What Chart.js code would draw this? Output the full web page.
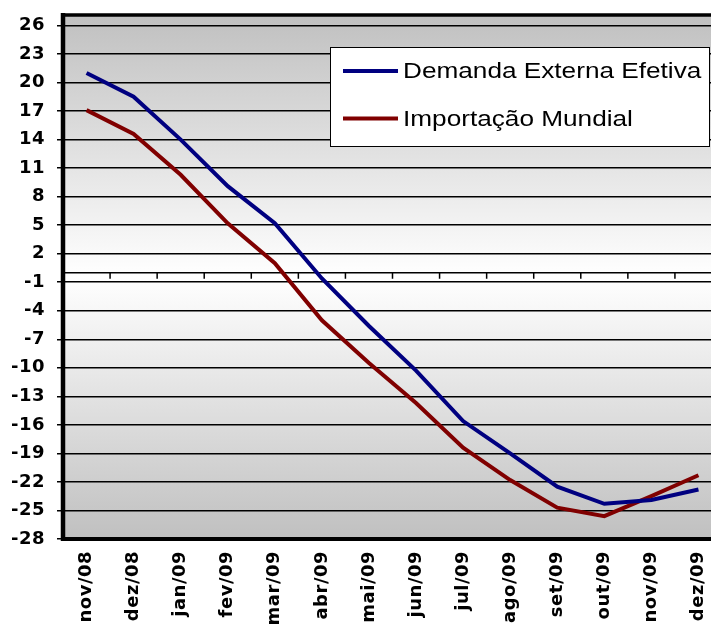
<!DOCTYPE html>
<html>
<head>
<meta charset="utf-8">
<script src="https://cdn.jsdelivr.net/npm/chart.js@4.4.0/dist/chart.umd.min.js"></script>
<style>
html, body { margin: 0; padding: 0; background: #fff; overflow: hidden; }
</style>
</head>
<body>
<canvas id="grafico" width="722" height="626"></canvas>
<script>
var meses = ['nov/08', 'dez/08', 'jan/09', 'fev/09', 'mar/09', 'abr/09', 'mai/09',
    'jun/09', 'jul/09', 'ago/09', 'set/09', 'out/09', 'nov/09', 'dez/09'];
var demandaExterna = [21.0, 18.5, 14.0, 9.1, 5.2, -0.6, -5.6, -10.3, -15.6, -19.0, -22.5, -24.3, -23.9, -22.8];
var importacaoMundial = [17.1, 14.6, 10.3, 5.2, 1.0, -5.0, -9.5, -13.7, -18.4, -21.8, -24.7, -25.6, -23.5, -21.3];
var ticksY = [-28, -25, -22, -19, -16, -13, -10, -7, -4, -1, 2, 5, 8, 11, 14, 17, 20, 23, 26];
var minY = -28;
var maxY = 27.1;

var fonteEixo = 'DejaVu Sans, Verdana, sans-serif';
var fonteLegenda = 'Liberation Sans, Arial, sans-serif';

// fundo degradê + espaçamento das letras
var fundoPlugin = {
    id: 'fundo',
    beforeLayout: function (chart) {
        chart.ctx.letterSpacing = '0.5px';
    },
    beforeDraw: function (chart) {
        var ctx = chart.ctx;
        var a = chart.chartArea;
        var g = ctx.createLinearGradient(0, a.top, 0, a.bottom);
        g.addColorStop(0, '#c0c0c0');
        g.addColorStop(0.5, '#ffffff');
        g.addColorStop(1, '#c0c0c0');
        ctx.save();
        ctx.fillStyle = g;
        ctx.fillRect(a.left, a.top, a.right - a.left, a.bottom - a.top);
        ctx.restore();
        ctx.letterSpacing = '0.5px';
    }
};

// linha do zero com as marcas entre os meses
var zeroPlugin = {
    id: 'zero',
    beforeDatasetsDraw: function (chart) {
        var ctx = chart.ctx;
        var a = chart.chartArea;
        var sx = chart.scales.x;
        var y0 = chart.scales.y.getPixelForValue(0);
        ctx.save();
        ctx.strokeStyle = '#000';
        ctx.lineWidth = 1.5;
        ctx.beginPath();
        ctx.moveTo(a.left, y0);
        ctx.lineTo(a.right, y0);
        for (var i = 0; i < meses.length - 1; i++) {
            var xb = (sx.getPixelForValue(i) + sx.getPixelForValue(i + 1)) / 2;
            ctx.moveTo(xb, y0);
            ctx.lineTo(xb, y0 + 6);
        }
        ctx.stroke();
        ctx.restore();
    }
};

// moldura e legenda
var molduraPlugin = {
    id: 'moldura',
    afterDraw: function (chart) {
        var ctx = chart.ctx;
        var a = chart.chartArea;
        ctx.save();
        ctx.strokeStyle = '#000';
        ctx.lineWidth = 3.5;
        ctx.beginPath();
        ctx.moveTo(a.left - 2, a.top);
        ctx.lineTo(a.right, a.top);
        ctx.stroke();
        ctx.lineWidth = 4.5;
        ctx.beginPath();
        ctx.moveTo(a.left, a.top - 2);
        ctx.lineTo(a.left, a.bottom + 2);
        ctx.stroke();
        ctx.lineWidth = 4;
        ctx.beginPath();
        ctx.moveTo(a.left - 2, a.bottom);
        ctx.lineTo(a.right, a.bottom);
        ctx.stroke();

        var bw = 379, bh = 99;
        var bx = a.right - 13 - bw;
        var by = a.top + 32;
        ctx.fillStyle = '#fff';
        ctx.fillRect(bx, by, bw, bh);
        ctx.lineWidth = 1;
        ctx.strokeRect(bx + 0.5, by + 0.5, bw, bh);

        ctx.letterSpacing = '0px';
        ctx.font = '22px ' + fonteLegenda;
        ctx.textBaseline = 'middle';
        ctx.textAlign = 'left';
        var ds = chart.data.datasets;
        for (var i = 0; i < ds.length; i++) {
            var ly = by + 24 + i * 47.5;
            ctx.strokeStyle = ds[i].borderColor;
            ctx.lineWidth = 4;
            ctx.beginPath();
            ctx.moveTo(bx + 13, ly);
            ctx.lineTo(bx + 68, ly);
            ctx.stroke();
            ctx.fillStyle = '#000';
            ctx.save();
            ctx.translate(bx + 73, ly + 1);
            ctx.scale(1.19, 1);
            ctx.fillText(ds[i].label, 0, 0);
            ctx.restore();
        }
        ctx.restore();
    }
};

var ctx = document.getElementById('grafico').getContext('2d');
new Chart(ctx, {
    type: 'line',
    data: {
        labels: meses,
        datasets: [{
            label: 'Demanda Externa Efetiva',
            data: demandaExterna,
            borderColor: '#000080',
            backgroundColor: '#000080',
            borderWidth: 4,
            pointRadius: 0,
            tension: 0
        }, {
            label: 'Importação Mundial',
            data: importacaoMundial,
            borderColor: '#800000',
            backgroundColor: '#800000',
            borderWidth: 4,
            pointRadius: 0,
            tension: 0
        }]
    },
    options: {
        responsive: false,
        animation: false,
        layout: {
            padding: { top: 15, left: 0, right: 0, bottom: 0 }
        },
        plugins: {
            legend: { display: false },
            tooltip: { enabled: false }
        },
        scales: {
            x: {
                offset: true,
                grid: { display: false, drawTicks: false },
                border: { display: false },
                ticks: {
                    autoSkip: false,
                    minRotation: 90,
                    maxRotation: 90,
                    padding: 12,
                    color: '#000',
                    font: { family: fonteEixo, size: 18, weight: 'bold' }
                },
                afterFit: function (scale) {
                    scale.height = 87;
                    scale.paddingLeft = 0;
                    scale.paddingRight = 0;
                }
            },
            y: {
                min: minY,
                max: maxY,
                grid: {
                    color: '#000',
                    lineWidth: 1.5,
                    tickLength: 6,
                    drawTicks: true
                },
                border: { display: false },
                ticks: {
                    padding: 12,
                    color: '#000',
                    font: { family: fonteEixo, size: 18, weight: 'bold' }
                },
                afterBuildTicks: function (scale) {
                    scale.ticks = ticksY.map(function (v) { return { value: v }; });
                },
                afterFit: function (scale) {
                    scale.width = 63;
                    scale.paddingTop = 0;
                    scale.paddingBottom = 0;
                }
            }
        }
    },
    plugins: [fundoPlugin, zeroPlugin, molduraPlugin]
});
</script>
</body>
</html>
